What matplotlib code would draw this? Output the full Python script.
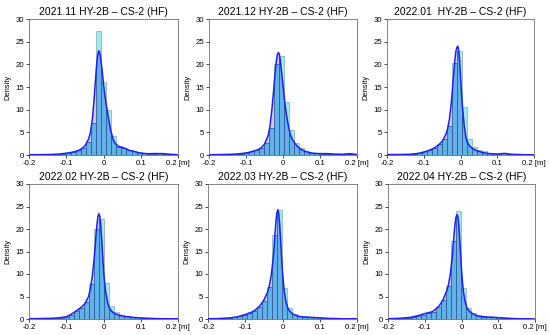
import matplotlib
matplotlib.use("Agg")
import matplotlib.pyplot as plt
import numpy as np
from matplotlib.patches import Polygon

plt.rcParams['font.family'] = ['Liberation Sans', 'DejaVu Sans']
plt.rcParams['axes.unicode_minus'] = False

titles = ["2021.11 HY-2B \u2013 CS-2 (HF)", "2021.12 HY-2B \u2013 CS-2 (HF)",
          "2022.01  HY-2B \u2013 CS-2 (HF)", "2022.02 HY-2B \u2013 CS-2 (HF)",
          "2022.03 HY-2B \u2013 CS-2 (HF)", "2022.04 HY-2B \u2013 CS-2 (HF)"]

xticks = [-0.2, -0.1, 0.0, 0.1, 0.2]
xticklabels = ["-0.2", "-0.1", "0", "0.1", "0.2 [m]"]
yticks = [0, 5, 10, 15, 20, 25, 30]

bin_width = 0.0135
bin_start = [-0.2083, -0.2125, -0.2125, -0.2137, -0.2029, -0.2035]

hist1 = [0.05, 0.06, 0.08, 0.1, 0.12, 0.15, 0.2, 0.3, 0.45, 0.7, 1.0, 1.5, 2.8, 7.0,
         27.3, 16.2, 10.0, 4.2, 1.8, 1.6, 1.2, 0.9, 0.6, 0.35, 0.3, 0.3, 0.35, 0.3, 0.25, 0.15, 0.08]
hist2 = [0.05, 0.05, 0.08, 0.1, 0.15, 0.2, 0.25, 0.3, 0.5, 0.8, 1.0, 1.6, 2.6, 6.0,
         20.0, 21.8, 11.8, 5.6, 2.6, 1.5, 0.9, 0.5, 0.4, 0.3, 0.3, 0.3, 0.2, 0.2, 0.3, 0.25, 0.1]
hist3 = [0.1, 0.1, 0.1, 0.12, 0.15, 0.2, 0.3, 0.5, 0.8, 1.1, 1.5, 2.4, 3.5, 6.5,
         20.2, 23.0, 10.5, 3.5, 1.8, 1.1, 0.8, 0.5, 0.35, 0.25, 0.35, 0.25, 0.15, 0.1, 0.08, 0.05, 0.05]
hist4 = [0.05, 0.05, 0.08, 0.1, 0.12, 0.15, 0.2, 0.3, 0.5, 0.9, 1.7, 2.4, 3.7, 7.7,
         20.0, 22.2, 8.1, 3.0, 1.5, 1.0, 0.7, 0.5, 0.4, 0.3, 0.25, 0.2, 0.15, 0.1, 0.08, 0.05, 0.05]
hist5 = [0.05, 0.08, 0.1, 0.2, 0.25, 0.4, 0.6, 1.0, 1.3, 1.8, 2.7, 4.1, 7.2,
         18.7, 24.2, 6.8, 2.4, 1.1, 0.7, 0.5, 0.45, 0.4, 0.35, 0.3, 0.25, 0.2, 0.15, 0.1, 0.08, 0.05, 0.05]
hist6 = [0.05, 0.08, 0.1, 0.15, 0.25, 0.4, 0.7, 1.0, 1.4, 1.6, 2.6, 4.3, 7.4,
         17.3, 24.0, 6.8, 2.5, 1.3, 0.8, 0.5, 0.45, 0.4, 0.35, 0.3, 0.2, 0.15, 0.1, 0.05, 0.05, 0.03, 0.02]

kde_x = [-0.2, -0.17, -0.14, -0.12, -0.1, -0.09, -0.08, -0.07, -0.06, -0.05, -0.04, -0.035,
         -0.03, -0.025, -0.0225, -0.02, -0.0175, -0.015, -0.0125, -0.01, -0.0075, -0.005,
         -0.0025, 0.0, 0.0025, 0.005, 0.01, 0.015, 0.02, 0.025, 0.03, 0.04, 0.05, 0.06,
         0.07, 0.08, 0.09, 0.1, 0.12, 0.14, 0.16, 0.18, 0.2]
kde1 = [0.05, 0.08, 0.12, 0.2, 0.4, 0.5, 0.7, 0.9, 1.3, 2.0, 3.5, 5.0,
        7.8, 12.5, 15.5, 18.3, 20.8, 22.4, 23.0, 22.6, 21.3, 19.6,
        17.6, 15.6, 13.9, 12.4, 9.8, 7.3, 5.2, 3.7, 2.7, 1.9, 1.7, 1.4,
        1.0, 0.85, 0.6, 0.4, 0.28, 0.32, 0.3, 0.15, 0.05]
kde2 = [0.05, 0.1, 0.15, 0.25, 0.45, 0.6, 0.85, 1.1, 1.5, 2.4, 4.3, 6.5,
        10.0, 14.5, 17.0, 19.3, 21.0, 22.2, 22.6, 22.3, 21.0, 19.2,
        17.2, 15.5, 13.5, 11.5, 8.5, 6.2, 4.5, 3.5, 2.8, 1.8, 1.2, 0.8,
        0.55, 0.4, 0.35, 0.3, 0.3, 0.2, 0.15, 0.3, 0.1]
kde3 = [0.1, 0.1, 0.15, 0.3, 0.6, 0.9, 1.2, 1.6, 2.2, 3.0, 4.5, 5.8,
        8.0, 11.5, 13.8, 16.5, 19.0, 21.2, 22.8, 23.7, 24.0, 23.2,
        21.0, 17.5, 14.0, 11.0, 6.5, 3.8, 2.6, 2.0, 1.6, 1.1, 0.8, 0.55,
        0.4, 0.3, 0.25, 0.2, 0.35, 0.15, 0.1, 0.05, 0.05]
kde4 = [0.05, 0.1, 0.15, 0.25, 0.5, 0.9, 1.4, 2.0, 2.6, 3.4, 5.0, 6.8,
        9.5, 13.5, 16.0, 18.8, 21.0, 22.7, 23.4, 22.8, 21.0, 18.0,
        14.5, 11.0, 8.5, 6.5, 4.0, 2.6, 1.9, 1.5, 1.2, 0.9, 0.7, 0.55,
        0.45, 0.35, 0.3, 0.25, 0.15, 0.1, 0.05, 0.05, 0.05]
kde5 = [0.05, 0.1, 0.25, 0.5, 1.0, 1.3, 1.6, 2.2, 3.0, 4.2, 6.0, 7.5,
        9.8, 13.5, 16.0, 19.0, 21.8, 23.6, 24.3, 23.5, 21.0, 17.5,
        13.8, 10.5, 8.0, 6.0, 3.6, 2.3, 1.7, 1.3, 1.0, 0.7, 0.5, 0.45,
        0.4, 0.35, 0.3, 0.25, 0.15, 0.1, 0.05, 0.05, 0.05]
kde6 = [0.05, 0.15, 0.35, 0.7, 1.2, 1.4, 1.6, 2.2, 3.0, 4.3, 6.3, 7.8,
        10.2, 14.0, 16.5, 19.0, 21.2, 22.6, 23.2, 22.8, 21.0, 18.0,
        14.5, 11.0, 8.3, 6.2, 3.8, 2.5, 1.9, 1.5, 1.2, 0.8, 0.6, 0.5,
        0.45, 0.4, 0.35, 0.3, 0.2, 0.1, 0.05, 0.05, 0.02]

hists = [hist1, hist2, hist3, hist4, hist5, hist6]
kdes = [kde1, kde2, kde3, kde4, kde5, kde6]

W, H = 550, 335
fig = plt.figure(figsize=(5.5, 3.35), dpi=100)

# axes boxes in pixels: (left, right, top, bottom)
boxes = [(29, 178, 19, 155), (209, 357, 19, 155), (387, 534, 19, 155),
         (29, 178, 184, 319), (208, 357, 184, 319), (388, 535, 184, 319)]

cyan = '#9aeef0'
blue_fill = '#62b2ea'
lav = '#d2c8ef'

for i in range(6):
    l, r, t, b = boxes[i]
    ax = fig.add_axes([l / W, (H - b) / H, (r - l) / W, (b - t) / H])
    edges = bin_start[i] + bin_width * np.arange(len(hists[i]))
    kx = np.array(kde_x)
    ky = np.array(kdes[i])
    ax.fill_between(kx, 0, ky, color=lav, lw=0, zorder=1)
    ax.bar(edges, hists[i], width=bin_width, align='edge', color=cyan,
           edgecolor='#8aa6a8', linewidth=0.5, zorder=2)
    poly = Polygon(np.column_stack([np.r_[kx, kx[::-1]], np.r_[ky, np.zeros_like(ky)]]),
                   closed=True, transform=ax.transData, facecolor='none', edgecolor='none')
    ax.add_patch(poly)
    bars = ax.bar(edges, hists[i], width=bin_width, align='edge', color=blue_fill,
                  edgecolor='#2c4f8c', linewidth=0.5, zorder=3)
    for p in bars:
        p.set_clip_path(poly)
    ax.plot(kx, ky, color='#1f1ff5', lw=1.1, zorder=4)

    ax.set_xlim(-0.2, 0.2)
    ax.set_ylim(0, 30)
    ax.set_xticks(xticks)
    ax.set_xticklabels(xticklabels)
    ax.set_yticks(yticks)
    ax.tick_params(labelsize=5.6, length=2, width=0.5, pad=1.5)
    ax.set_ylabel('Density', fontsize=5.4, labelpad=3)
    ax.set_title(titles[i], fontsize=7.5, pad=3)
    for s in ax.spines.values():
        s.set_linewidth(0.5)
        s.set_color('#555555')

fig.savefig('out.png', dpi=100)
